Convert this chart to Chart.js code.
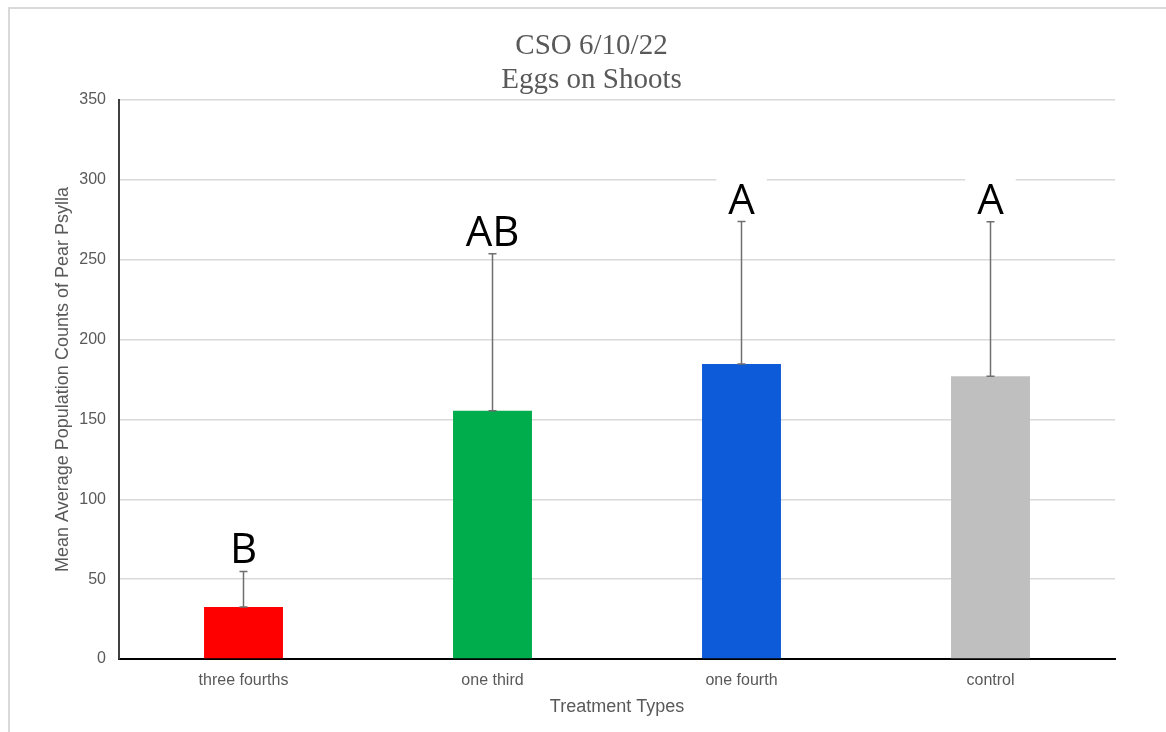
<!DOCTYPE html>
<html>
<head>
<meta charset="utf-8">
<script src="https://cdn.jsdelivr.net/npm/chart.js@4/dist/chart.umd.min.js"></script>
<style>
  html, body { margin: 0; padding: 0; background: #fff; overflow: hidden; }
  #frame {
    position: absolute; left: 8px; top: 7px; width: 1300px; height: 900px;
    border: 2px solid #d9d9d9;
  }
  #wrap { position: absolute; left: 0; top: 0; width: 1166px; height: 732px; }
</style>
</head>
<body>
<div id="frame"></div>
<div id="wrap"><canvas id="chart" width="1166" height="732"></canvas></div>
<script>
const categories = ['three fourths', 'one third', 'one fourth', 'control']
const means = [32.5, 155.5, 184.7, 177]
const errorsPlus = [22.3, 98.3, 89.2, 96.7]
const letters = ['B', 'AB', 'A', 'A']
const barColors = ['#ff0000', '#00ad4c', '#0e5bd9', '#bfbfbf']
const yTicks = [0, 50, 100, 150, 200, 250, 300, 350]

const grey = '#595959'

const errorBarsAndLetters = {
  id: 'errorBarsAndLetters',
  afterDatasetsDraw (chart) {
    const { ctx } = chart
    const yScale = chart.scales.y
    const meta = chart.getDatasetMeta(0)

    meta.data.forEach((bar, i) => {
      const x = bar.x
      const yLow = yScale.getPixelForValue(means[i])
      const yHigh = yScale.getPixelForValue(means[i] + errorsPlus[i])

      ctx.save()
      ctx.strokeStyle = '#6f6f6f'
      ctx.lineWidth = 1.5
      ctx.beginPath()
      ctx.moveTo(x, yLow)
      ctx.lineTo(x, yHigh)
      ctx.moveTo(x - 4, yLow)
      ctx.lineTo(x + 4, yLow)
      ctx.moveTo(x - 4, yHigh)
      ctx.lineTo(x + 4, yHigh)
      ctx.stroke()

      // significance letter on a white box
      ctx.font = '42px "Open Sans", sans-serif'
      const w = ctx.measureText(letters[i]).width
      const baseline = yHigh - 8
      ctx.fillStyle = '#fff'
      ctx.fillRect(x - w / 2 - 12, baseline - 36, w + 24, 42)
      ctx.fillStyle = '#000'
      ctx.textAlign = 'center'
      ctx.textBaseline = 'alphabetic'
      ctx.fillText(letters[i], x, baseline)
      ctx.restore()
    })
  }
}

new Chart(document.getElementById('chart'), {
  type: 'bar',
  data: {
    labels: categories,
    datasets: [{
      data: means,
      backgroundColor: barColors,
      borderWidth: 0,
      barPercentage: 0.317,
      categoryPercentage: 1
    }]
  },
  options: {
    responsive: false,
    animation: false,
    // left padding shifts the centred title to where the reference has it
    layout: { padding: { left: 68, right: 51, top: 0, bottom: 0 } },
    plugins: {
      legend: { display: false },
      tooltip: { enabled: false },
      title: {
        display: true,
        text: ['CSO 6/10/22', 'Eggs on Shoots'],
        color: grey,
        font: { family: '"Liberation Serif", "Times New Roman", serif', size: 29, weight: 'normal', lineHeight: 1.172 },
        padding: { top: 29, bottom: 3 }
      }
    },
    scales: {
      x: {
        grid: { display: false, drawTicks: false },
        border: { display: true, color: '#000', width: 2 },
        ticks: {
          color: grey,
          padding: 12,
          font: { family: '"Liberation Sans", Arial, sans-serif', size: 16 }
        },
        title: {
          display: true,
          text: 'Treatment Types',
          color: grey,
          font: { family: '"Liberation Sans", Arial, sans-serif', size: 18 },
          padding: { top: 0, bottom: 14 }
        },
        afterFit: (scale) => { scale.height = 73 }
      },
      y: {
        min: 0,
        max: 350,
        afterBuildTicks: (scale) => {
          scale.ticks = yTicks.map((value) => ({ value }))
        },
        grid: { color: '#d9d9d9', lineWidth: 1.5, drawTicks: false },
        border: { display: true, color: '#404040', width: 2 },
        ticks: {
          color: grey,
          padding: 13,
          font: { family: '"Liberation Sans", Arial, sans-serif', size: 16 }
        },
        title: {
          display: true,
          text: 'Mean Average Population Counts of Pear Psylla',
          color: grey,
          font: { family: '"Liberation Sans", Arial, sans-serif', size: 18 },
          padding: { top: -16, bottom: 0 }
        },
        afterFit: (scale) => { scale.width = 51 }
      }
    }
  },
  plugins: [errorBarsAndLetters]
})
</script>
</body>
</html>
